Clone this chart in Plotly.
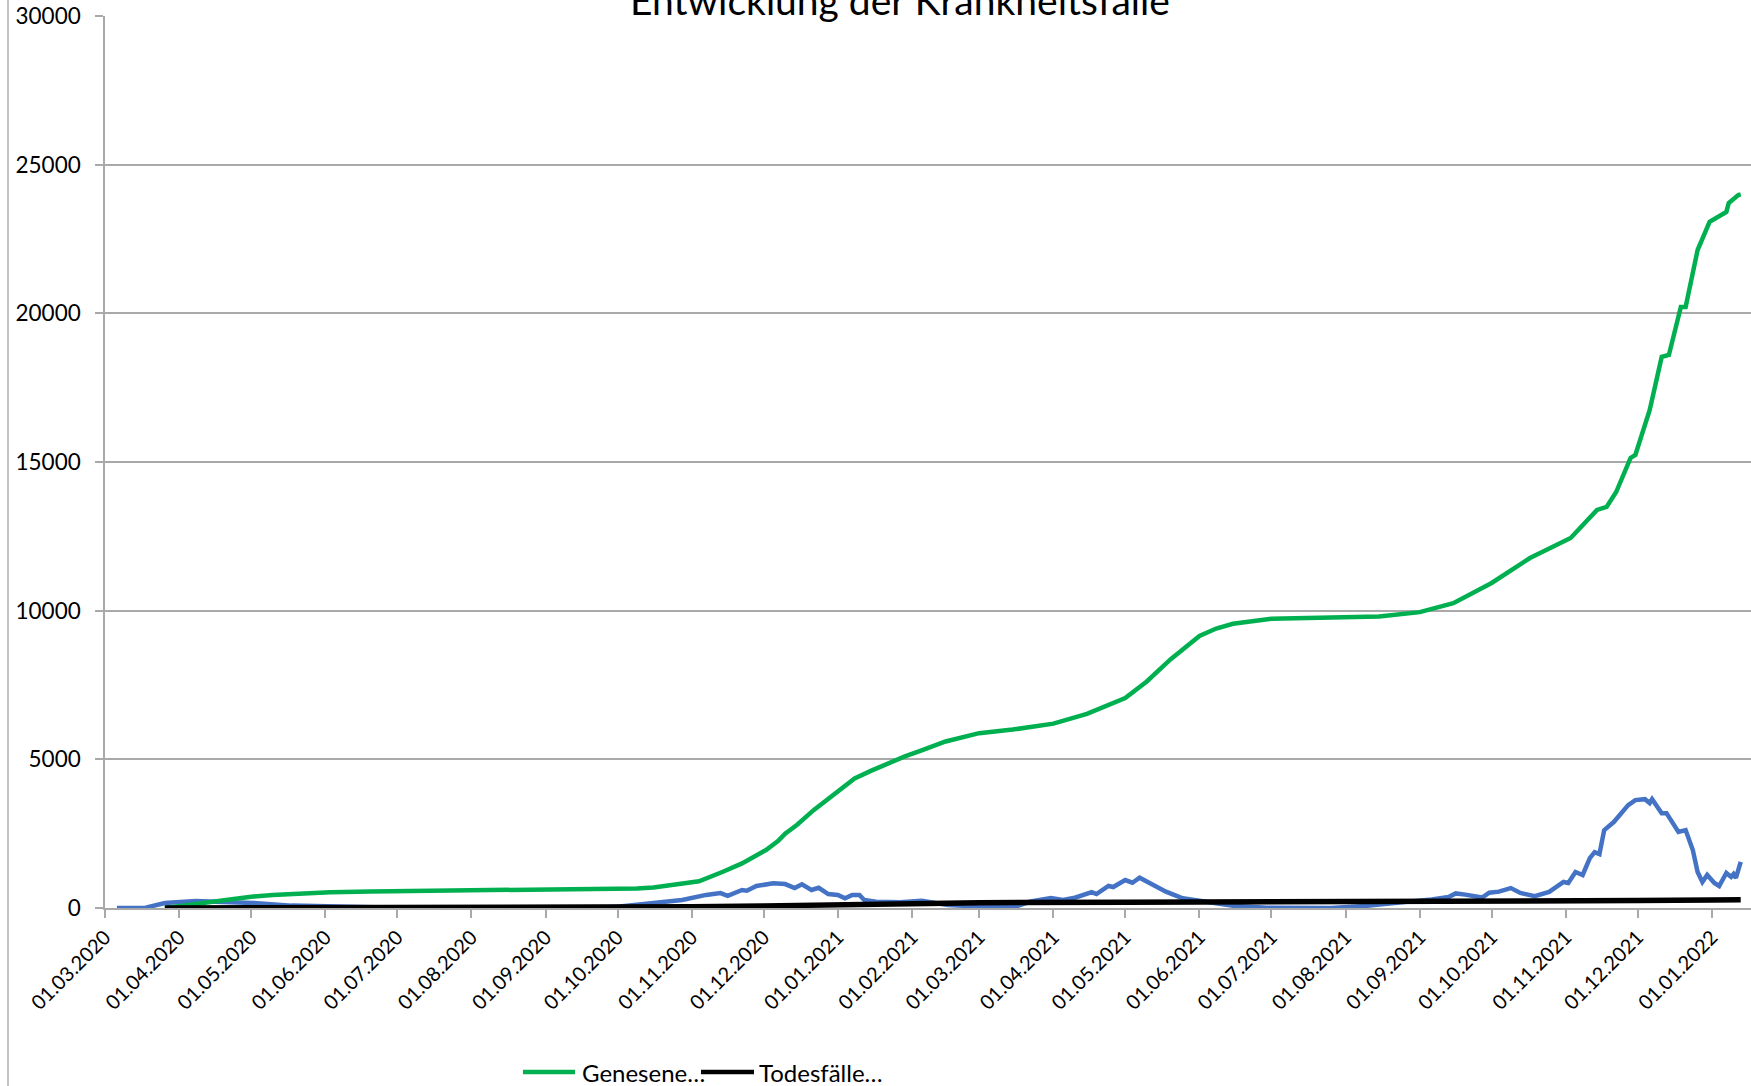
import plotly.graph_objects as go

# ---------------- data ----------------
genesene_dates = ["2020-03-26", "2020-04-01", "2020-04-08", "2020-04-16", "2020-04-24", "2020-05-01",
                  "2020-05-10", "2020-05-20", "2020-06-03", "2020-06-20", "2020-07-04", "2020-08-06",
                  "2020-09-06", "2020-09-25", "2020-10-09", "2020-10-16", "2020-10-24", "2020-11-04",
                  "2020-11-14", "2020-11-22", "2020-12-02", "2020-12-07", "2020-12-10", "2020-12-15",
                  "2020-12-22", "2021-01-01", "2021-01-08", "2021-01-15", "2021-01-22", "2021-01-29",
                  "2021-02-05", "2021-02-15", "2021-03-01", "2021-03-15", "2021-04-01", "2021-04-15",
                  "2021-05-01", "2021-05-10", "2021-05-20", "2021-06-01", "2021-06-08", "2021-06-15",
                  "2021-07-01", "2021-08-01", "2021-08-15", "2021-09-01", "2021-09-15", "2021-10-01",
                  "2021-10-17", "2021-11-03", "2021-11-14", "2021-11-18", "2021-11-22", "2021-11-28",
                  "2021-11-30", "2021-12-06", "2021-12-11", "2021-12-14", "2021-12-19", "2021-12-21",
                  "2021-12-26", "2021-12-29", "2021-12-31", "2022-01-07", "2022-01-08", "2022-01-12",
                  "2022-01-13"]
genesene_values = [0, 60, 130, 210, 325, 380,
                   440, 490, 530, 555, 570, 580,
                   605, 630, 660, 690, 775, 900,
                   1220, 1500, 1950, 2250, 2500, 2800,
                   3300, 3950, 4360, 4620, 4880, 5100,
                   5300, 5600, 5880, 6000, 6200, 6530,
                   7060, 7620, 8370, 9150, 9400, 9560,
                   9730, 9770, 9800, 9950, 10250, 10930,
                   11770, 12445, 13387, 13490, 13990, 15136,
                   15237, 16750, 18535, 18600, 20215, 20215,
                   22130, 22700, 23075, 23410, 23710, 23980,
                   24000]

aktive_dates = ["2020-03-06", "2020-03-18", "2020-03-26", "2020-04-08", "2020-04-16", "2020-05-02",
                "2020-05-18", "2020-06-03", "2020-07-01", "2020-08-01", "2020-09-01", "2020-09-23",
                "2020-10-01", "2020-10-14", "2020-10-28", "2020-11-07", "2020-11-13", "2020-11-16",
                "2020-11-22", "2020-11-24", "2020-11-28", "2020-12-05", "2020-12-10", "2020-12-14",
                "2020-12-17", "2020-12-21", "2020-12-24", "2020-12-28", "2021-01-01", "2021-01-04",
                "2021-01-07", "2021-01-10", "2021-01-12", "2021-01-17", "2021-01-27", "2021-02-05",
                "2021-02-09", "2021-02-16", "2021-03-02", "2021-03-08", "2021-03-17", "2021-03-22",
                "2021-03-31", "2021-04-05", "2021-04-10", "2021-04-17", "2021-04-19", "2021-04-24",
                "2021-04-26", "2021-05-01", "2021-05-04", "2021-05-07", "2021-05-12", "2021-05-18",
                "2021-05-25", "2021-06-01", "2021-06-15", "2021-06-29", "2021-07-15", "2021-07-26",
                "2021-08-09", "2021-08-23", "2021-09-06", "2021-09-13", "2021-09-16", "2021-09-20",
                "2021-09-27", "2021-09-30", "2021-10-04", "2021-10-09", "2021-10-13", "2021-10-19",
                "2021-10-25", "2021-10-31", "2021-11-02", "2021-11-05", "2021-11-08", "2021-11-11",
                "2021-11-13", "2021-11-15", "2021-11-17", "2021-11-21", "2021-11-27", "2021-11-30",
                "2021-12-04", "2021-12-06", "2021-12-07", "2021-12-11", "2021-12-13", "2021-12-18",
                "2021-12-21", "2021-12-24", "2021-12-26", "2021-12-28", "2021-12-30", "2022-01-02",
                "2022-01-04", "2022-01-07", "2022-01-09", "2022-01-10", "2022-01-11", "2022-01-13"]
aktive_values = [0, 10, 170, 235, 210, 170,
                 80, 45, 10, 5, 5, 10,
                 45, 170, 270, 440, 500, 410,
                 605, 580, 740, 830, 805, 670,
                 795, 605, 680, 470, 440, 325,
                 440, 440, 270, 210, 190, 245,
                 180, 100, 45, 40, 67, 210,
                 335, 270, 345, 535, 470, 740,
                 705, 940, 850, 1020, 805, 550,
                 325, 245, 77, 10, 0, 0,
                 67, 168, 290, 370, 490, 450,
                 350, 515, 550, 670, 505, 400,
                 540, 875, 840, 1210, 1110, 1680,
                 1880, 1815, 2620, 2890, 3460, 3630,
                 3660, 3530, 3660, 3190, 3190, 2560,
                 2620, 1950, 1210, 875, 1110, 840,
                 740, 1180, 1045, 1140, 1010, 1550]

tote_dates = ["2020-03-26", "2020-06-01", "2020-09-01", "2020-10-01", "2020-11-01", "2020-12-01",
              "2021-01-01", "2021-02-01", "2021-03-01", "2021-05-01", "2021-07-01", "2021-09-01",
              "2021-10-01", "2021-11-01", "2021-12-01", "2022-01-01", "2022-01-13"]
tote_values = [0, 8, 12, 20, 40, 70,
               120, 160, 180, 190, 195, 205,
               215, 230, 250, 270, 280]

title_text = "Entwicklung der Krankheitsfälle"
legend_names = ["Genesene…", "Todesfälle…"]

# ---------------- figure ----------------
W, H = 1751, 1086
L, R, T, B = 105, 0, 16, 178
pw, ph = W - L - R, H - T - B

def px_x(x):
    return (x - L) / pw

def px_y(y):
    return (H - B - y) / ph

FONT = "Lato"
GRID = "#a9a9a9"

fig = go.Figure()
fig.add_trace(go.Scatter(x=aktive_dates, y=aktive_values, mode="lines", name="Aktive Fälle",
                         line=dict(color="#4472C4", width=4.5), showlegend=False))
fig.add_trace(go.Scatter(x=genesene_dates, y=genesene_values, mode="lines", name=legend_names[0],
                         line=dict(color="#00B050", width=4.5), showlegend=False))
fig.add_trace(go.Scatter(x=tote_dates, y=tote_values, mode="lines", name=legend_names[1],
                         line=dict(color="#000000", width=5.5), showlegend=False))

fig.update_layout(
    width=W, height=H,
    margin=dict(l=L, r=R, t=T, b=B, autoexpand=False),
    paper_bgcolor="white", plot_bgcolor="white",
    font=dict(family=FONT, color="black", size=22),
    showlegend=False,
)
fig.update_xaxes(
    type="date", automargin=False,
    range=["2020-03-01", "2022-01-17 07:00"],
    tick0="2020-03-01", dtick="M1", tickformat="%d.%m.%Y",
    tickangle=-45, ticks="outside", ticklen=8, tickcolor=GRID, tickwidth=1.5,
    showline=True, linecolor=GRID, linewidth=1.5,
    showgrid=False, zeroline=False,
    tickfont=dict(family=FONT, size=20, color="black"),
)
fig.update_yaxes(
    automargin=False,
    range=[0, 30000], dtick=5000, tick0=0, tickformat="d",
    ticks="outside", ticklen=8, tickcolor=GRID, tickwidth=1.5,
    showline=True, linecolor=GRID, linewidth=1.5,
    showgrid=True, gridcolor=GRID, gridwidth=1.5, zeroline=False,
    ticklabelstandoff=10,
    tickfont=dict(family=FONT, size=22.5, color="black"),
)

# chart-area left border
fig.add_shape(type="line", xref="paper", yref="paper",
              x0=px_x(8), x1=px_x(8), y0=px_y(0), y1=px_y(H),
              line=dict(color="#b0b0b0", width=1.5), layer="below")

# title (cut off at top as in the source)
fig.add_annotation(text=title_text, xref="paper", yref="paper",
                   x=px_x(900), y=px_y(25), xanchor="center", yanchor="bottom",
                   showarrow=False, font=dict(family=FONT, size=39, color="black"))

# manual legend
leg_y = px_y(1072)
items = [(523, 575, "#00B050", legend_names[0], 580), (701, 754, "#000000", legend_names[1], 757)]
for x0, x1, col, txt, tx in items:
    fig.add_shape(type="line", xref="paper", yref="paper",
                  x0=px_x(x0), x1=px_x(x1), y0=leg_y, y1=leg_y,
                  line=dict(color=col, width=4.5))
    fig.add_annotation(text=txt, xref="paper", yref="paper", x=px_x(tx), y=leg_y,
                       xanchor="left", yanchor="middle", showarrow=False,
                       font=dict(family=FONT, size=24, color="black"))

fig.write_html("out.html", config={"displayModeBar": False},
               post_script="document.body.style.margin='0px';document.body.style.overflow='hidden';")
